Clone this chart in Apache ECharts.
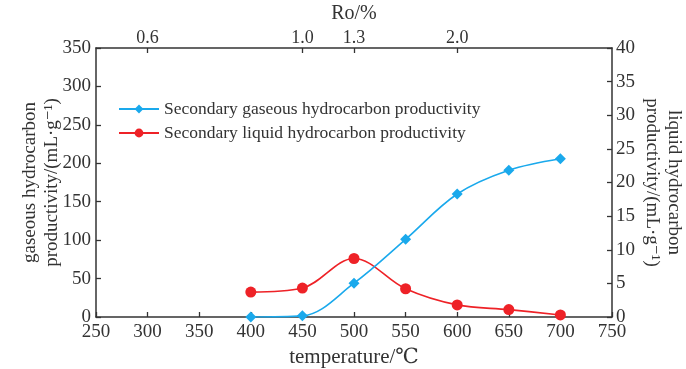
<!DOCTYPE html>
<html>
<head>
<meta charset="utf-8">
<script src="https://cdn.jsdelivr.net/npm/echarts@6/dist/echarts.min.js"></script>
<style>html,body{margin:0;padding:0;background:#fff}#c{width:686px;height:369px}</style>
</head>
<body>
<div id="c"></div>
<script>
var temps = [400, 450, 500, 550, 600, 650, 700];
var gasValues = [0, 1.5, 44, 101, 160, 191, 206];
var liquidValues = [3.7, 4.3, 8.7, 4.2, 1.8, 1.1, 0.3];
var roTemps = [300, 450, 500, 600];
var roLabels = ['0.6', '1.0', '1.3', '2.0'];
var gasName = 'Secondary gaseous hydrocarbon productivity';
var liquidName = 'Secondary liquid hydrocarbon productivity';

var FONT = '"Liberation Serif", "DejaVu Serif", serif';
var AX = '#333';
function pairs(xs, ys){ return xs.map(function(x,i){return [x, ys[i]];}); }
var roMap = {};
roTemps.forEach(function(t,i){ roMap[t] = roLabels[i]; });

var chart = echarts.init(document.getElementById('c'));
chart.setOption({
  animation: false,
  grid: {left: 96, right: 74, top: 48, bottom: 52, outerBoundsMode: 'none', containLabel: false},
  legend: {
    orient: 'vertical', left: 113, top: 95, itemWidth: 40, itemHeight: 11, itemGap: 6,
    textStyle: {fontFamily: FONT, fontSize: 17.5, color: '#333'},
    data: [gasName, liquidName]
  },
  xAxis: [{
    type: 'value', min: 250, max: 750, interval: 50, position: 'bottom',
    name: 'temperature/℃', nameLocation: 'middle', nameGap: 29,
    nameTextStyle: {fontFamily: FONT, fontSize: 21, color: '#333'},
    axisLine: {onZero: false, lineStyle: {color: AX, width: 1.5}},
    axisTick: {inside: true, length: 5, lineStyle: {color: AX, width: 1.3}},
    axisLabel: {fontFamily: FONT, fontSize: 19, color: '#333', margin: 6},
    splitLine: {show: false}
  }, {
    type: 'value', min: 250, max: 750, position: 'top',
    name: 'Ro/%', nameLocation: 'middle', nameGap: 21,
    nameTextStyle: {fontFamily: FONT, fontSize: 20, color: '#333'},
    axisLine: {onZero: false, lineStyle: {color: AX, width: 1.5}},
    axisTick: {inside: true, length: 5, customValues: roTemps, lineStyle: {color: AX, width: 1.3}},
    axisLabel: {fontFamily: FONT, fontSize: 18, color: '#333', margin: 1, customValues: roTemps,
      formatter: function(v){ return roMap[v] || ''; }},
    splitLine: {show: false}
  }],
  yAxis: [{
    type: 'value', min: 0, max: 350, interval: 50, position: 'left',
    name: 'gaseous hydrocarbon\nproductivity/(mL·g⁻¹)', nameLocation: 'middle', nameGap: 33,
    nameMoveOverlap: false,
    nameTextStyle: {fontFamily: FONT, fontSize: 19, color: '#333', lineHeight: 22},
    axisLine: {show: true, lineStyle: {color: AX, width: 1.5}},
    axisTick: {inside: true, length: 5, lineStyle: {color: AX, width: 1.3}},
    axisLabel: {fontFamily: FONT, fontSize: 19, color: '#333', margin: 5},
    splitLine: {show: false}
  }, {
    type: 'value', min: 0, max: 40, interval: 5, position: 'right',
    name: 'liquid hydrocarbon\nproductivity/(mL·g⁻¹)', nameLocation: 'middle', nameGap: 29, nameRotate: -90,
    nameMoveOverlap: false,
    nameTextStyle: {fontFamily: FONT, fontSize: 19, color: '#333', lineHeight: 22},
    axisLine: {show: true, lineStyle: {color: AX, width: 1.5}},
    axisTick: {inside: true, length: 5, lineStyle: {color: AX, width: 1.3}},
    axisLabel: {fontFamily: FONT, fontSize: 19, color: '#333', margin: 4},
    splitLine: {show: false}
  }],
  series: [{
    name: gasName, type: 'line', xAxisIndex: 0, yAxisIndex: 0, smooth: 0.35,
    symbol: 'diamond', symbolSize: 11,
    lineStyle: {color: '#1AA9EC', width: 1.6},
    itemStyle: {color: '#1AA9EC'},
    data: pairs(temps, gasValues), z: 3
  }, {
    name: liquidName, type: 'line', xAxisIndex: 0, yAxisIndex: 1, smooth: 0.35,
    symbol: 'circle', symbolSize: 11,
    lineStyle: {color: '#EE2227', width: 1.6},
    itemStyle: {color: '#EE2227'},
    data: pairs(temps, liquidValues), z: 2
  }]
});
</script>
</body>
</html>
